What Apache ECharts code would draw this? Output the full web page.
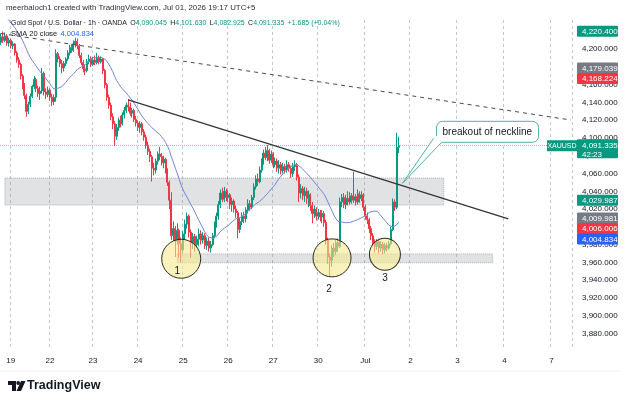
<!DOCTYPE html>
<html><head><meta charset="utf-8">
<script src="https://cdn.jsdelivr.net/npm/echarts@6/dist/echarts.min.js"></script>
<style>html,body{margin:0;padding:0;background:#fff}#c{width:625px;height:404px}</style>
</head><body><div id="c"></div>
<script>
// ---------------- DATA ----------------
const dayLabels = ['19','22','23','24','25','26','27','30','Jul','2','3','4','7'];
const dayStart  = [5,25,47,70,93,116,139,162,186,209,233,257,281];
const slotCount = 292; // hourly slots incl. future space
const firstOpen = 4208;
const closes = [
4214,4210,4215,4207,4210,4204,4206,4196,4188,4183,
4170,4160,4148,4130,4138,4147,4158,4166,4156,4150,
4153,4173,4152,4149,4154,4146,4141,4146,4195,4189,
4184,4179,4184,4189,4196,4202,4199,4206,4209,4204,
4193,4185,4178,4176,4186,4189,4183,4188,4185,4191,
4186,4189,4176,4160,4146,4137,4124,4116,4102,4112,
4120,4116,4126,4131,4137,4135,4128,4131,4121,4117,
4112,4116,4107,4101,4092,4085,4079,4066,4064,4074,
4082,4079,4072,4076,4064,4050,4030,3990,3998,3984,
3996,3981,3974,3992,4003,4012,3994,3982,3989,3980,
3986,3992,3985,3990,3979,3984,3976,3980,3990,4002,
4012,4025,4038,4031,4040,4033,4036,4025,4029,4020,
4016,3997,4006,4012,4009,4019,4026,4022,4033,4045,
4054,4051,4064,4073,4083,4078,4086,4075,4082,4070,
4074,4066,4070,4063,4068,4064,4070,4066,4060,4068,
4070,4056,4038,4043,4035,4040,4032,4036,4024,4015,
4020,4012,4016,4011,4015,4005,3985,3966,3962,3976,
3972,3982,3978,4028,4033,4025,4032,4028,4035,4030,
4034,4028,4037,4032,4036,4022,4012,4008,3998,3990,
3982,3978,3983,3976,3980,3974,3979,3976,3981,3997,
4028,4022,4089.65,4091.335];
const highs = [
4218,4220,4219,4217,4213,4212,4209,4207,4198,4191,
4185,4172,4162,4150,4141,4150,4160,4170,4168,4159,
4158,4179,4175,4156,4158,4156,4150,4149,4200,4197,
4192,4188,4187,4191,4199,4205,4206,4210,4213,4212,
4206,4196,4188,4183,4189,4194,4192,4191,4193,4196,
4193,4192,4190,4178,4162,4149,4140,4128,4119,4116,
4123,4125,4129,4135,4140,4144,4140,4134,4133,4125,
4120,4119,4118,4110,4104,4096,4088,4081,4072,4077,
4085,4090,4083,4080,4078,4066,4052,4039,4006,4001,
4004,3998,3988,3995,4008,4016,4014,3997,3993,3992,
3990,3998,3996,3994,3993,3988,3988,3984,3993,4006,
4016,4029,4042,4044,4045,4043,4041,4038,4033,4031,
4024,4018,4010,4016,4017,4022,4031,4030,4036,4049,
4058,4060,4068,4077,4087,4090,4092,4088,4086,4084,
4078,4077,4075,4073,4072,4071,4075,4073,4069,4072,
4075,4072,4059,4048,4046,4045,4044,4041,4038,4028,
4024,4022,4020,4019,4019,4018,4008,3988,3970,3979,
3982,3986,3987,4033,4037,4038,4036,4040,4039,4038,
4062,4037,4042,4040,4040,4038,4025,4016,4010,4001,
3993,3986,3986,3985,3984,3983,3982,3982,3984,4000,
4032,4031,4106,4101.63];
const lows = [
4205,4207,4208,4204,4203,4201,4200,4193,4185,4179,
4166,4155,4144,4124,4127,4135,4145,4155,4152,4146,
4143,4150,4148,4144,4146,4142,4136,4137,4141,4185,
4180,4173,4175,4181,4187,4193,4196,4197,4202,4200,
4190,4182,4174,4171,4174,4183,4180,4181,4182,4183,
4183,4184,4172,4156,4142,4133,4120,4110,4091,4098,
4108,4112,4114,4122,4128,4130,4125,4123,4118,4113,
4108,4106,4103,4097,4088,4081,4073,4051,4058,4060,
4070,4075,4069,4066,4060,4046,4020,3985,3984,3966,
3980,3965,3960,3970,3986,3998,3988,3965,3975,3972,
3976,3978,3980,3981,3975,3974,3972,3971,3978,3987,
3999,4008,4021,4028,4028,4029,4028,4020,4017,4016,
4010,3987,3993,4002,4004,4005,4015,4018,4020,4030,
4042,4046,4049,4061,4070,4075,4074,4071,4072,4066,
4067,4062,4060,4059,4060,4060,4061,4062,4055,4056,
4063,4052,4028,4032,4030,4028,4026,4022,4018,4004,
4010,4007,4008,4006,4004,4000,3980,3958,3944,3955,
3966,3968,3972,3976,4022,4021,4020,4024,4025,4026,
4027,4024,4025,4027,4029,4018,4008,4003,3993,3985,
3978,3971,3974,3970,3972,3969,3970,3972,3974,3979,
3995,4018,4020,4082.925];
// closes of the 19 hours before the first visible bar (SMA warm-up)
const priorCloses = [4266,4270,4262,4259,4264,4256,4252,4255,4247,4244,4248,4240,4236,4239,4232,4228,4225,4221,4214];
const smaPeriod = 20;

const legendOHLC = ['4,090.045','4,101.630','4,082.925','4,091.335'];
const legendChange = '+1.685 (+0.04%)';
const smaLabel = '4,004.834';
const yTicks = [3880,3900,3920,3940,3960,3980,4000,4020,4040,4060,4080,4100,4120,4140,4160,4180,4200];
const priceTags = [4220.400, 4179.039, 4168.224, 4029.987, 4009.981, 4006.006, 4004.834];
const lastPrice = 4091.335;
const countdown = '42:23';

const dashedTrend = [[0, 4217.8], [291, 4120.3]];
const neckline    = [[65, 4143], [259, 4009]];
const upperZone   = [[2, 4055], [226, 4024.5]];
const lowerZone   = [[90, 3969.5], [251, 3959.5]];
const bottoms     = [[92, 3964], [169, 3965], [196, 3969]];
const bottomNames = ['1','2','3'];
const calloutPoint = [205, 4049];
const calloutText = 'breakout of neckline';

// ---------------- STYLES ----------------
const UP = '#089981', DOWN = '#f23645';
const tagColors = [UP, '#787b86', DOWN, UP, '#787b86', DOWN, '#2962ff'];
const FONT = '"Liberation Sans", Arial, sans-serif';
const bottomSizes = [[39,39],[38,38],[31,32]];
const bottomLabelOffsets = [[-4,12],[-3,31],[0,24]];

// ---------------- BUILD ----------------
const slots = Array.from({length: slotCount}, (_, i) => String(i));
const ohlc = closes.map((c, i) => {
  const o = i === 0 ? firstOpen : closes[i-1];
  return [o, c, Math.min(lows[i], o, c), Math.max(highs[i], o, c)];
});
const all = priorCloses.concat(closes);
const sma = closes.map((c, i) => {
  let s = 0; for (let k = i; k < i + smaPeriod; k++) s += all[k];
  return +(s / smaPeriod).toFixed(3);
});
const fmt = v => v.toLocaleString('en-US', {minimumFractionDigits:3, maximumFractionDigits:3});

const YMIN = 3861.2, YMAX = 4233.0;
const chart = echarts.init(document.getElementById('c'), null, {renderer:'canvas'});
const GRID = {left:0, right:53, top:20, bottom:54};

chart.setOption({
  animation:false,
  backgroundColor:'#ffffff',
  textStyle:{fontFamily:FONT},
  grid:{left:GRID.left, right:GRID.right, top:GRID.top, bottom:GRID.bottom, containLabel:false},
  xAxis:{
    type:'category', data:slots, boundaryGap:true,
    axisLine:{show:false}, axisTick:{show:false},
    axisLabel:{
      interval:(i)=>dayStart.includes(i),
      formatter:(v,i)=>{ const k = dayStart.indexOf(Number(v)); return k>=0 ? dayLabels[k] : ''; },
      color:'#131722', fontSize:8, margin:7, fontFamily:FONT
    },
    splitLine:{show:true, interval:(i)=>dayStart.includes(i), lineStyle:{color:'#c3c6ce', type:[3,3], width:1}}
  },
  yAxis:{
    type:'value', position:'right', min:YMIN, max:YMAX,
    axisLine:{show:false}, axisTick:{show:false}, splitLine:{show:false},
    axisLabel:{customValues:yTicks, formatter:fmt, color:'#131722', fontSize:8, margin:10, fontFamily:FONT}
  },
  series:[
    { type:'line', name:'zones', data:[], z:1, silent:true,
      markArea:{silent:true,
        itemStyle:{color:'rgba(120,123,134,0.22)', borderColor:'rgba(120,123,134,0.55)', borderWidth:1, borderType:'dotted'},
        data:[
          [{coord:upperZone[0]},{coord:upperZone[1]}],
          [{coord:lowerZone[0]},{coord:lowerZone[1]}]
        ]}
    },
    { type:'candlestick', name:'XAUUSD', data:ohlc, z:3, barWidth:1.5, large:false,
      itemStyle:{color:UP, color0:DOWN, borderColor:UP, borderColor0:DOWN, borderWidth:1, opacity:1},
      markLine:{silent:true, symbol:['none','none'], label:{show:false},
        lineStyle:{color:'rgba(8,153,129,0.5)', type:'dotted', width:1},
        data:[{yAxis:lastPrice}]}
    },
    { type:'line', name:'SMA', data:sma, z:4, symbol:'none', silent:true,
      lineStyle:{color:'#7184d8', width:1} },
    { type:'line', name:'trend', data:dashedTrend, z:5, symbol:'none', silent:true,
      lineStyle:{color:'#4a4a4a', width:1, type:[4,4]} },
    { type:'line', name:'neckline', data:neckline, z:5, symbol:'none', silent:true,
      lineStyle:{color:'#333333', width:1.2} },
    { type:'scatter', name:'bottoms', z:6, silent:true,
      data:bottoms.map((b,k)=>({value:b, name:bottomNames[k], symbolSize:bottomSizes[k],
        label:{offset:bottomLabelOffsets[k]}})),
      itemStyle:{color:'rgba(244,232,140,0.58)', borderColor:'#2b2b22', borderWidth:1, opacity:1},
      label:{show:true, position:'inside', formatter:p=>p.name, color:'#131722', fontSize:10, fontFamily:FONT}
    }
  ]
});

// ---------- overlays (positions through the chart's own scales) ----------
const W = chart.getWidth();
const gridRight = W - GRID.right;
const py = v => chart.convertToPixel({yAxisIndex:0}, v);
const g = [];
function text(x, y, t, style) {
  g.push({type:'text', x, y, z:100, style:Object.assign({text:t, fill:'#131722', font:'7.5px '+FONT, verticalAlign:'middle', align:'left'}, style||{})});
}
// header
text(6, 8, 'meerbaloch1 created with TradingView.com, Jul 01, 2026 19:17 UTC+5', {fill:'#2a2e39', font:'7.9px '+FONT});
g.push({type:'text', x:11, y:23, z:100, style:{
  text:'{t|Gold Spot / U.S. Dollar · 1h · OANDA} {k|O}{v|'+legendOHLC[0]+'} {k|H}{v|'+legendOHLC[1]+'} {k|L}{v|'+legendOHLC[2]+'} {k|C}{v|'+legendOHLC[3]+'} {v|'+legendChange+'}',
  verticalAlign:'middle', align:'left',
  rich:{t:{fill:'#131722', font:'7px '+FONT}, k:{fill:'#131722', font:'7px '+FONT}, v:{fill:UP, font:'7px '+FONT}}
}});
g.push({type:'text', x:11, y:34, z:100, style:{
  text:'{t|SMA 20 close} {v|'+smaLabel+'}', verticalAlign:'middle', align:'left',
  rich:{t:{fill:'#131722', font:'7.5px '+FONT}, v:{fill:'#2962ff', font:'7.5px '+FONT}}
}});

// right-side price tags (stacked to avoid overlap)
const tags = priceTags.map((v,k)=>({v, c:tagColors[k], y:py(v)})).sort((a,b)=>a.y-b.y);
for (let k=1;k<tags.length;k++){ if (tags[k].y < tags[k-1].y + 10.5) tags[k].y = tags[k-1].y + 10.5; }
tags.forEach(t=>{
  g.push({type:'rect', z:90, shape:{x:gridRight+5, y:t.y-5.5, width:41, height:11, r:1}, style:{fill:t.c}});
  text(gridRight+10, t.y+0.5, fmt(t.v), {fill:'#ffffff', font:'8px '+FONT});
});
// last price tag + symbol tag
const ly = py(lastPrice);
g.push({type:'rect', z:90, shape:{x:gridRight+5, y:ly-6.5, width:41, height:19, r:1}, style:{fill:UP}});
text(gridRight+10, ly+0.5, fmt(lastPrice), {fill:'#ffffff', font:'8px '+FONT});
text(gridRight+10, ly+9, countdown, {fill:'#ffffff', font:'8px '+FONT});
g.push({type:'rect', z:90, shape:{x:gridRight-25, y:ly-5.5, width:30, height:11}, style:{fill:UP}});
text(gridRight-10, ly+0.5, 'XAUUSD', {fill:'#ffffff', font:'7px '+FONT, align:'center'});

// callout
const cp = chart.convertToPixel({gridIndex:0}, calloutPoint);
const bx = cp[0] + 34, by = cp[1] - 62, bw = 102, bh = 21;
g.push({type:'rect', z:95, shape:{x:bx, y:by, width:bw, height:bh, r:6}, style:{fill:'#ffffff', stroke:'#4fb3a6', lineWidth:1}});
g.push({type:'polygon', z:96, shape:{points:[[bx-3,by+17],[cp[0],cp[1]],[bx+5,by+21],[bx+6,by+19],[bx+1,by+14]]}, style:{fill:'#ffffff'}});
g.push({type:'polyline', z:97, shape:{points:[[bx-3,by+17],[cp[0],cp[1]],[bx+5,by+bh]]}, style:{stroke:'#4fb3a6', lineWidth:1, fill:null}});
text(bx+6, by+bh/2+0.5, calloutText, {fill:'#131722', font:'10px '+FONT, z:98});

// footer logo
g.push({type:'polygon', z:100, shape:{points:[[8,381],[16,381],[16,391],[12,391],[12,385],[8,385]]}, style:{fill:'#131722'}});
g.push({type:'circle', z:100, shape:{cx:18.2, cy:383, r:1.9}, style:{fill:'#131722'}});
g.push({type:'polygon', z:100, shape:{points:[[21,381],[25.5,381],[21,391],[16.5,391]]}, style:{fill:'#131722'}});
text(27, 386, 'TradingView', {fill:'#131722', font:'bold 12.5px '+FONT});
// light separator
g.push({type:'line', z:1, shape:{x1:0, y1:371, x2:620, y2:371}, style:{stroke:'#eceef2', lineWidth:1}});

chart.setOption({graphic:g});
</script>
</body></html>
